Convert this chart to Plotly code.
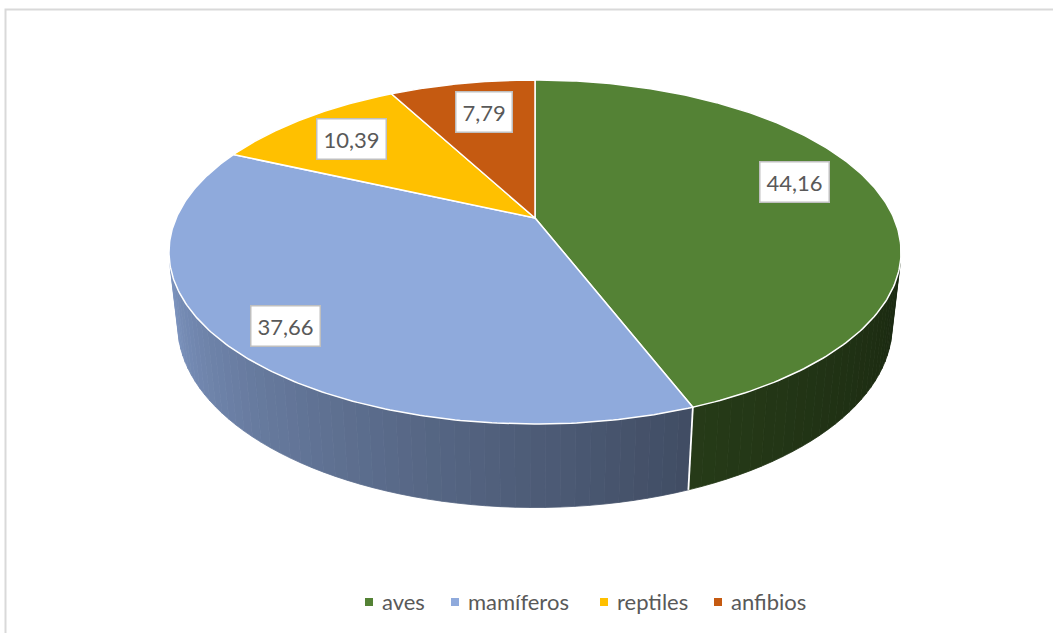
import numpy as np
import plotly.graph_objects as go

# Share of species by class (%)
categories = ["aves", "mamíferos", "reptiles", "anfibios"]
values = [44.16, 37.66, 10.39, 7.79]

# Styling
top_colors = ["#548235", "#8FAADC", "#FFC000", "#C55A11"]
label_radius = [0.79, 0.845, 0.775, 0.75]
label_frac = [0.46, 0.5, 0.5, 0.55]
legend_x = [369, 455, 604, 718]
LEGEND_Y = 602
FONT = "Lato"
TEXT_COLOR = "#595959"

W, H = 1053, 633

# Perspective camera for the 3-D pie (pixel space)
CX, CY = 535.0, 218.0
FOCAL = 1611.0
DIST = 4.49
TILT = np.radians(27.43)
THICK = 0.232
cos_t, sin_t = np.cos(TILT), np.sin(TILT)


def project(X, Y, Z):
    depth = DIST - (Y * cos_t + Z * sin_t)
    return CX + FOCAL * X / depth, CY + FOCAL * (Y * sin_t - Z * cos_t) / depth


def rim(theta_deg, z, r=1.0):
    th = np.radians(theta_deg)
    return project(r * np.sin(th), -r * np.cos(th), z)


def shade(theta_deg):
    return np.interp(theta_deg, [100, 159, 255, 260], [0.30, 0.45, 0.86, 0.86])


def scaled(hex_color, k):
    h = hex_color.lstrip("#")
    rgb = [int(h[i:i + 2], 16) for i in (0, 2, 4)]
    return "rgb({},{},{})".format(*[int(round(min(255, c * k))) for c in rgb])


total = sum(values)
bounds = np.concatenate([[0], np.cumsum(values)]) / total * 360.0

# visible part of the side wall (faces the camera)
vis_lim = np.degrees(np.arccos(1.0 / (DIST * cos_t)))
vis_lo, vis_hi = 180 - vis_lim, 180 + vis_lim

fig = go.Figure()

# side wall, drawn as thin shaded strips
for i in range(len(values)):
    a0, a1 = max(bounds[i], vis_lo), min(bounds[i + 1], vis_hi)
    if a1 <= a0:
        continue
    n = max(2, int(np.ceil((a1 - a0) / 2.0)))
    edges = np.linspace(a0, a1, n + 1)
    for ea, eb in zip(edges[:-1], edges[1:]):
        th = np.linspace(ea, eb, 4)
        tx, ty = rim(th, 0.0)
        bx, by = rim(th[::-1], -THICK)
        col = scaled(top_colors[i], shade((ea + eb) / 2))
        fig.add_trace(go.Scatter(
            x=np.concatenate([tx, bx, tx[:1]]), y=np.concatenate([ty, by, ty[:1]]),
            mode="lines", fill="toself", fillcolor=col,
            line=dict(color=col, width=0.8), hoverinfo="skip", showlegend=False))

# top faces
for i in range(len(values)):
    th = np.linspace(bounds[i], bounds[i + 1], 200)
    ax, ay = rim(th, 0.0)
    ox, oy = project(0.0, 0.0, 0.0)
    fig.add_trace(go.Scatter(
        x=np.concatenate([[ox], ax, [ox]]), y=np.concatenate([[oy], ay, [oy]]),
        mode="lines", fill="toself", fillcolor=top_colors[i],
        line=dict(color="white", width=1.5), hoverinfo="skip", showlegend=False))

# slice separators on the wall
for b in bounds[1:-1]:
    if vis_lo < b < vis_hi:
        x0, y0 = rim(b, 0.0)
        x1, y1 = rim(b, -THICK)
        fig.add_trace(go.Scatter(x=[x0, x1], y=[y0, y1], mode="lines",
                                 line=dict(color="white", width=1.8),
                                 hoverinfo="skip", showlegend=False))

# data labels
annotations = []
for i, v in enumerate(values):
    ang = bounds[i] + label_frac[i] * (bounds[i + 1] - bounds[i])
    lx, ly = rim(ang, 0.0, label_radius[i])
    annotations.append(dict(
        x=lx, y=ly, xref="x", yref="y", text=f"{v:.2f}".replace(".", ","),
        showarrow=False, font=dict(family=FONT, size=22, color=TEXT_COLOR),
        bgcolor="white", bordercolor="#bfbfbf", borderwidth=1.5, borderpad=6))

# legend
shapes = [dict(type="rect", xref="x", yref="y", x0=5.5, y0=9.5, x1=W + 20, y1=H + 20,
               line=dict(color="#d9d9d9", width=2), fillcolor="rgba(0,0,0,0)", layer="below")]
for name, col, x in zip(categories, top_colors, legend_x):
    shapes.append(dict(type="rect", xref="x", yref="y", x0=x - 4, x1=x + 4,
                       y0=LEGEND_Y - 4, y1=LEGEND_Y + 4, fillcolor=col, line=dict(width=0)))
    annotations.append(dict(x=x + 11, y=LEGEND_Y - 1, xref="x", yref="y", text=name,
                            xanchor="left", yanchor="middle", showarrow=False,
                            font=dict(family=FONT, size=22, color=TEXT_COLOR)))

fig.update_layout(
    width=W, height=H, margin=dict(l=0, r=0, t=0, b=0),
    paper_bgcolor="white", plot_bgcolor="white",
    xaxis=dict(range=[0, W], visible=False, fixedrange=True),
    yaxis=dict(range=[H, 0], visible=False, fixedrange=True),
    shapes=shapes, annotations=annotations, showlegend=False)

fig.write_html("out.html")
